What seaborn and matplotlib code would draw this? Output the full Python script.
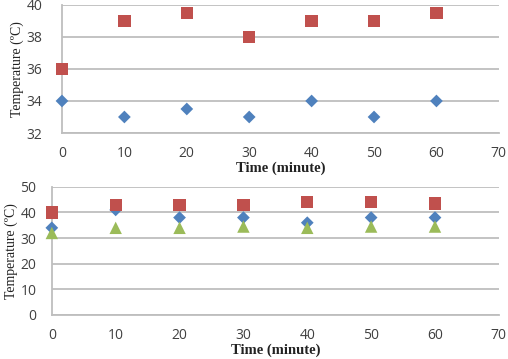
import pandas as pd
import numpy as np
import matplotlib.pyplot as plt
import seaborn as sns

sns.set_theme(style="white")

# Data
time_min = [0, 10, 20, 30, 40, 50, 60]

top_diamond = [34, 33, 33.5, 33, 34, 33, 34]
top_square = [36, 39, 39.5, 38, 39, 39, 39.5]

bot_diamond = [34, 41, 38, 38, 36, 38, 38]
bot_square = [40, 43, 43, 43, 44, 44, 43.5]
bot_triangle = [32, 34, 34, 34.5, 34, 34.5, 34.5]

blue = '#4F81BD'
red = '#C0504D'
green = '#9BBB59'

top_df = pd.DataFrame({
    'time': time_min * 2,
    'temp': top_diamond + top_square,
    'series': ['a'] * 7 + ['b'] * 7,
})
bot_df = pd.DataFrame({
    'time': time_min * 3,
    'temp': bot_diamond + bot_square + bot_triangle,
    'series': ['a'] * 7 + ['b'] * 7 + ['c'] * 7,
})

fig = plt.figure(figsize=(5.08, 3.59), dpi=100)
ax1 = fig.add_axes([0.122, 0.6295, 0.860, 0.357])
ax2 = fig.add_axes([0.102, 0.1226, 0.880, 0.357])

palette = {'a': blue, 'b': red, 'c': green}
markers = {'a': 'D', 'b': 's', 'c': '^'}
sizes = {'a': 42, 'b': 78, 'c': 80}

for ax, df in [(ax1, top_df), (ax2, bot_df)]:
    for s, sub in df.groupby('series'):
        sns.scatterplot(data=sub, x='time', y='temp', color=palette[s],
                        marker=markers[s], s=sizes[s], edgecolor='none',
                        ax=ax, legend=False, zorder=3, clip_on=False)

# Top panel
ax1.set_xlim(0, 70)
ax1.set_ylim(32, 40)
ax1.set_yticks([32, 34, 36, 38, 40])
ax1.set_xticks(range(0, 71, 10))

# Bottom panel
ax2.set_xlim(0, 70)
ax2.set_ylim(0, 50)
ax2.set_yticks(range(0, 51, 10))
ax2.set_xticks(range(0, 71, 10))

for ax, ypad in [(ax1, 14), (ax2, 11)]:
    ax.grid(axis='y', color='#BEBEBE', lw=1.3)
    ax.grid(axis='x', visible=False)
    for sp in ['top', 'right']:
        ax.spines[sp].set_visible(False)
    for sp in ['left', 'bottom']:
        ax.spines[sp].set_color('#BEBEBE')
        ax.spines[sp].set_linewidth(1.3)
    ax.tick_params(axis='x', length=0, pad=9.5, labelsize=10, colors='#404040')
    ax.tick_params(axis='y', length=0, pad=ypad, labelsize=10, colors='#404040')
    for lab in ax.get_xticklabels() + ax.get_yticklabels():
        lab.set_family('Open Sans')
    ax.set_xlabel('Time (minute)', family='Liberation Serif', fontsize=10.5,
                  fontweight='bold', color='#222222', labelpad=0)
    ax.set_ylabel('Temperature (ºC)', family='Liberation Serif', fontsize=10,
                  color='#222222', labelpad=2)
    ax.set_axisbelow(True)

fig.savefig('out.png', dpi=100)
